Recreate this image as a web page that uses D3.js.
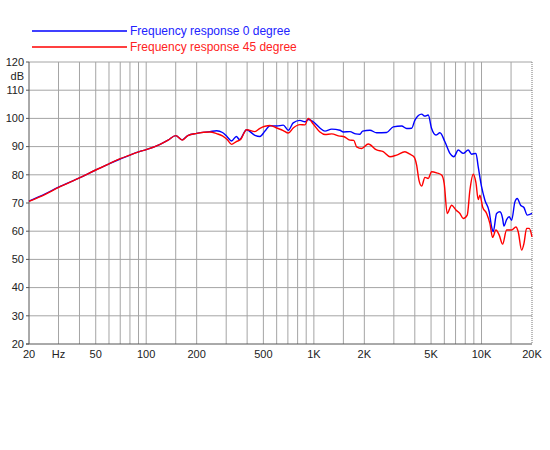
<!DOCTYPE html>
<html>
<head>
<meta charset="utf-8">
<script src="https://cdn.jsdelivr.net/npm/d3@7"></script>
<style>
  body { margin: 0; background: #fff; }
  text { font-family: "Liberation Sans", Arial, sans-serif; }
</style>
</head>
<body>
<div id="chart"></div>
<script>
// frequency response, 0 degree (blue)
const freq0 = [20, 25, 30, 40, 50, 60, 70, 80, 91, 100, 121, 135, 150, 164, 177, 200, 240, 263, 285, 304,
  323, 345, 360, 397, 445, 477, 511, 547, 600, 657, 704, 753, 826, 885, 926, 992, 1087, 1165, 1277, 1430,
  1500, 1641, 1780, 1882, 1955, 2160, 2368, 2716, 2975, 3338, 3575, 3829, 4007, 4392, 4597, 4810, 5038,
  5346, 5648, 6050, 6478, 6844, 7260, 7777, 8330, 8726, 9260, 9558, 10010, 10476, 11114, 11486, 11740,
  12300, 12874, 13360, 13600, 14110, 14620, 15120, 15814, 16320, 17100, 17900, 18730, 20000];
const db0 = [70.7, 73.2, 75.6, 78.9, 81.7, 83.9, 85.6, 87.0, 88.2, 88.9, 90.8, 92.3, 93.9, 92.4, 93.9, 94.7, 95.3, 95.6, 95.0, 93.5,
  92.0, 93.6, 92.5, 96.0, 94.0, 93.6, 95.5, 97.4, 97.3, 97.6, 95.8, 98.4, 99.3, 98.8, 99.6, 98.8, 96.6, 95.5, 96.2, 95.8,
  95.2, 95.3, 94.5, 94.4, 95.5, 95.8, 94.9, 95.0, 97.0, 97.3, 96.4, 96.5, 99.4, 101.5, 100.8, 101.2, 96.4,
  94.1, 94.9, 91.7, 87.6, 86.4, 88.8, 87.6, 88.8, 87.3, 87.6, 82.8, 75.7, 71.0, 66.9, 61.5, 59.8,
  66.3, 66.9, 64.5, 61.8, 64.1, 65.1, 63.9, 70.4, 71.6, 69.2, 68.4, 65.7, 66.3];

// frequency response, 45 degree (red)
const freq45 = [20, 25, 30, 40, 50, 60, 70, 80, 91, 100, 121, 135, 150, 164, 177, 200, 240, 263, 285, 304,
  323, 345, 364, 397, 445, 477, 511, 547, 600, 657, 704, 753, 826, 885, 926, 992, 1087, 1165, 1277, 1430,
  1500, 1641, 1730, 1799, 1927, 2110, 2368, 2592, 2842, 3116, 3492, 3742, 3952, 4102, 4234, 4392, 4597,
  4810, 5038, 5398, 5781, 5990, 6242, 6631, 7036, 7432, 7777, 8216, 8526, 8922, 9260, 9558, 9780, 10150,
  10724, 11222, 11646, 12184, 12750, 13358, 14112, 15118, 16036, 16550, 17340, 17898, 18574, 19246, 20000];
const db45 = [70.6, 73.1, 75.5, 78.9, 81.7, 83.9, 85.7, 87.0, 88.2, 88.9, 90.8, 92.3, 93.9, 92.3, 93.9, 94.7, 95.2, 94.6, 93.8, 92.5,
  90.8, 91.8, 92.4, 96.0, 95.3, 96.5, 97.2, 97.5, 96.6, 95.7, 94.8, 96.6, 97.8, 97.7, 100.0, 98.0, 95.2, 94.3, 94.5, 93.7,
  93.6, 92.3, 92.2, 89.9, 89.3, 90.9, 88.8, 88.2, 86.4, 87.0, 88.2, 87.3, 86.4, 83.4, 78.1, 76.0, 79.1,
  78.7, 81.1, 80.7, 79.9, 76.9, 66.3, 69.2, 67.5, 66.3, 64.5, 65.7, 74.6, 80.2, 77.2, 71.2, 72.8, 68.6,
  66.3, 62.7, 57.8, 60.4, 58.6, 55.4, 60.4, 60.4, 61.5, 59.8, 53.3, 55.6, 61.0, 61.0, 58.0];

const xGrid = [30, 40, 50, 60, 70, 80, 90, 100, 150, 200, 300, 400, 500, 600, 700, 800, 900,
  1000, 1500, 2000, 3000, 4000, 5000, 6000, 7000, 8000, 9000, 10000, 15000];
const xTicks = [20, 30, 50, 100, 200, 500, 1000, 2000, 5000, 10000, 20000];
const xTickLabels = ["20", "Hz", "50", "100", "200", "500", "1K", "2K", "5K", "10K", "20K"];
const yTicks = [20, 30, 40, 50, 60, 70, 80, 90, 100, 110, 120];

const legendNames = ["Frequency response 0 degree", "Frequency response 45 degree"];
const colors = ["#0000ff", "#ff0000"];
const textColors = ["#2222ff", "#ff2222"];

const width = 550, height = 450;
const plotLeft = 29, plotRight = 532, plotTop = 62, plotBottom = 344;

const svg = d3.select("#chart").append("svg")
  .attr("width", width)
  .attr("height", height);

const x = d3.scaleLog().domain([20, 20000]).range([plotLeft, plotRight]);
const y = d3.scaleLinear().domain([20, 120]).range([plotBottom, plotTop]);

// grid
svg.append("g")
  .selectAll("line")
  .data(xGrid)
  .join("line")
  .attr("x1", d => x(d)).attr("x2", d => x(d))
  .attr("y1", plotTop).attr("y2", plotBottom)
  .attr("stroke", "#a4a4a4")
  .attr("stroke-width", 1);

svg.append("g")
  .selectAll("line")
  .data(yTicks.slice(1))
  .join("line")
  .attr("x1", plotLeft).attr("x2", plotRight)
  .attr("y1", d => y(d)).attr("y2", d => y(d))
  .attr("stroke", "#a4a4a4")
  .attr("stroke-width", 1);

// frame
svg.append("line")
  .attr("x1", plotRight).attr("x2", plotRight).attr("y1", plotTop).attr("y2", plotBottom)
  .attr("stroke", "#777").attr("stroke-dasharray", "1,1");
svg.append("line")
  .attr("x1", plotLeft).attr("x2", plotLeft).attr("y1", plotTop).attr("y2", plotBottom)
  .attr("stroke", "#555");
svg.append("line")
  .attr("x1", plotLeft - 3).attr("x2", plotRight).attr("y1", plotBottom).attr("y2", plotBottom)
  .attr("stroke", "#555");

// y ticks + labels
const yAxis = svg.append("g");
yAxis.selectAll("line")
  .data(yTicks)
  .join("line")
  .attr("x1", plotLeft - 3).attr("x2", plotLeft)
  .attr("y1", d => y(d)).attr("y2", d => y(d))
  .attr("stroke", "#555");
yAxis.selectAll("text")
  .data(yTicks)
  .join("text")
  .attr("x", plotLeft - 5)
  .attr("y", d => y(d))
  .attr("dy", "0.35em")
  .attr("text-anchor", "end")
  .attr("font-size", 11)
  .attr("fill", "#222")
  .text(d => d);
svg.append("text")
  .attr("x", plotLeft - 5).attr("y", (y(120) + y(110)) / 2)
  .attr("dy", "0.35em")
  .attr("text-anchor", "end")
  .attr("font-size", 11)
  .attr("fill", "#222")
  .text("dB");

// x labels
svg.append("g")
  .selectAll("text")
  .data(xTicks)
  .join("text")
  .attr("x", d => x(d))
  .attr("y", plotBottom + 14)
  .attr("text-anchor", "middle")
  .attr("font-size", 11)
  .attr("fill", "#222")
  .text((d, i) => xTickLabels[i]);

// curves
const line = d3.line()
  .x(d => x(d[0]))
  .y(d => y(d[1]))
  .curve(d3.curveMonotoneX);

const series = [d3.zip(freq0, db0), d3.zip(freq45, db45)];

svg.append("g")
  .selectAll("path")
  .data(series)
  .join("path")
  .attr("fill", "none")
  .attr("stroke", (d, i) => colors[i])
  .attr("stroke-width", 1.4)
  .attr("stroke-linejoin", "round")
  .attr("d", line);

// legend
const legend = svg.append("g");
legendNames.forEach((name, i) => {
  const ly = 31 + i * 16;
  legend.append("line")
    .attr("x1", 32).attr("x2", 127)
    .attr("y1", ly).attr("y2", ly)
    .attr("stroke", colors[i])
    .attr("stroke-width", 1.4);
  legend.append("text")
    .attr("x", 130).attr("y", ly)
    .attr("dy", "0.35em")
    .attr("font-size", 12)
    .attr("fill", textColors[i])
    .text(name);
});
</script>
</body>
</html>
